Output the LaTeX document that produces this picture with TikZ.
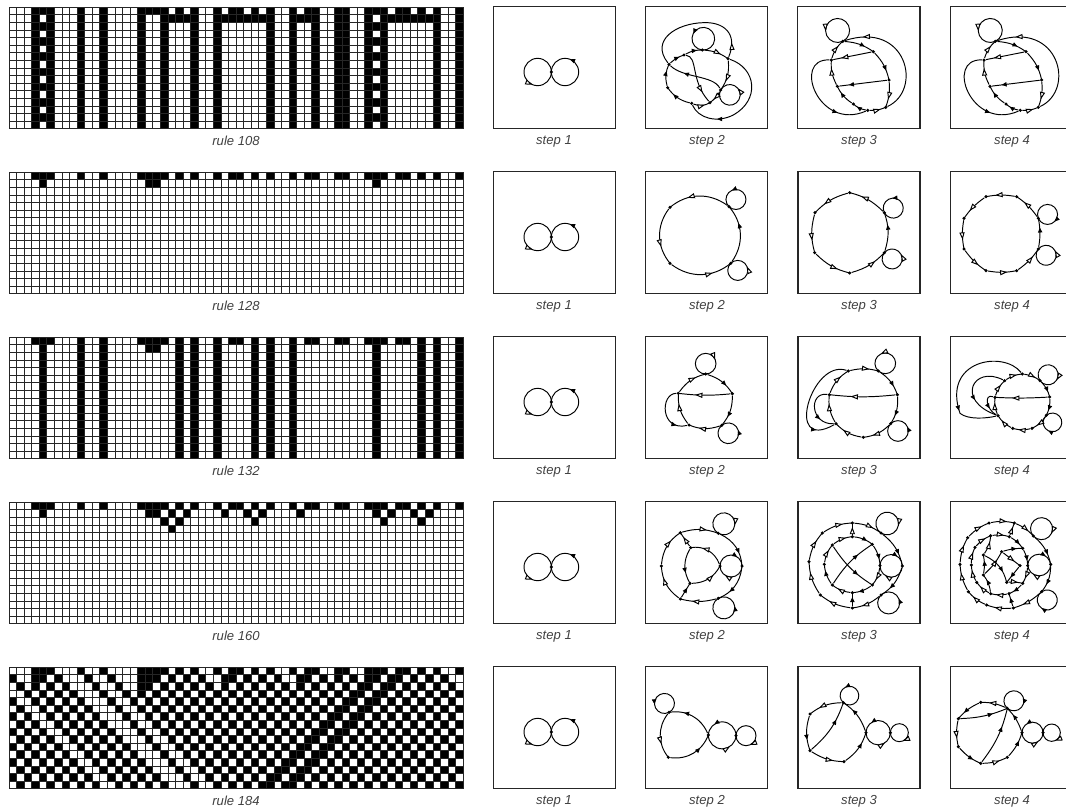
\documentclass[tikz,border=0pt]{standalone}
\usepackage{fontspec}
\setsansfont{Liberation Sans}
\usetikzlibrary{arrows.meta, decorations.markings}
\tikzset{
  dot/.style={circle, fill=black, inner sep=0pt, minimum size=2.6pt},
  edge/.style={draw=black, line width=0.72pt},
  oarc/.style={postaction={decorate, decoration={markings, mark=at position #1 with
      {\arrow{Triangle[open, fill=white, length=5.6pt, width=3.8pt]}}}}},
  farc/.style={postaction={decorate, decoration={markings, mark=at position #1 with
      {\arrow{Triangle[length=3.8pt, width=3.2pt]}}}}},
  panelbox/.style={draw=black!85, line width=0.8pt},
  gridline/.style={draw=black!85, line width=0.65pt},
  caption/.style={font=\fontsize{9.8}{11}\selectfont\sffamily\itshape, text=black!75, inner sep=0pt},
  rowzoom/.style 2 args={xshift=#1*0.75pt, yshift=-#2*0.75pt, x=0.25pt, y=-0.25pt},
}
\def\firstrow{3,4,5,9,12,17,18,19,20,22,24,27,29,30,32,34,37,39,40,43,44,47,48,49,51,52,54,56,59}
\def\getbit#1#2#3#4#5#6#7#8#9{\ifcase#9 #8\or #7\or #6\or #5\or #4\or #3\or #2\or #1\fi}
% one cellular automaton: top edge in pixels, then the rule as 8 bits
\newcommand{\rulegrid}[2]{
  \foreach \col in {0,...,59} {\expandafter\gdef\csname cell\col\endcsname{0}}
  \foreach \col in \firstrow {\expandafter\gdef\csname cell\col\endcsname{1}}
  \foreach \rowi in {0,...,15} {
    \foreach \col in {0,...,59} {
      \ifnum\csname cell\col\endcsname=1
        \fill (9+7.572*\col,#1+7.59*\rowi) rectangle ++(7.572,7.59);
      \fi
      \edef\nbr{\the\numexpr 4*\csname cell\the\numexpr\ifnum\col=0 59\else\col-1\fi\relax\endcsname
        +2*\csname cell\col\endcsname
        +\csname cell\the\numexpr\ifnum\col=59 0\else\col+1\fi\relax\endcsname\relax}
      \expandafter\xdef\csname next\col\endcsname{\getbit#2{\nbr}}
    }
    \foreach \col in {0,...,59} {\expandafter\xdef\csname cell\col\endcsname{\csname next\col\endcsname}}
  }
  \foreach \col in {0,...,60} {\draw[gridline] (9+7.572*\col,#1) -- ++(0,121.44);}
  \foreach \rowi in {0,...,16} {\draw[gridline] (9,#1+7.59*\rowi) -- ++(454.32,0);}
}
\newcommand{\vertices}[1]{\foreach \nn/\nx/\ny in {#1} {\node[dot] (\nn) at (\nx,\ny) {};}}
\newcommand{\oedges}[1]{\foreach \ea/\eb/\ebend in {#1} {\draw[edge,oarc=.68] (\ea) to[bend left=\ebend] (\eb);}}
\newcommand{\fedges}[1]{\foreach \ea/\eb/\ebend in {#1} {\draw[edge,farc=.68] (\ea) to[bend left=\ebend] (\eb);}}
\newcommand{\oloop}[4]{\draw[edge,oarc=.69] (#1) arc[start angle=#2, delta angle=#3, radius=#4];}
\newcommand{\floop}[4]{\draw[edge,farc=.69] (#1) arc[start angle=#2, delta angle=#3, radius=#4];}
% rule 108: step 3 and step 4
\newcommand{\twinpanel}{
  \draw[panelbox] (23,20) rectangle ++(367,366);
  \vertices{a/158/124,b/250/155,c/297/240,d/287/322,e/233/331,f/190/312,g/142/259,h/124/180}
  \oloop{a}{65}{-360}{36}
  \fedges{a/b/15,b/c/15,e/f/15,f/g/15}
  \oedges{c/d/12,e/d/-12,g/h/15,h/a/15}
  \draw[edge,oarc=.8] (b) -- (h);
  \draw[edge,farc=.8] (c) -- (g);
  \draw[edge,oarc=.85] (d) .. controls (400,270) and (350,60) .. (a);
  \draw[edge,farc=.72] (h) .. controls (5,175) and (85,395) .. (e);
}
\begin{document}
\begin{tikzpicture}[x=0.75pt, y=-0.75pt]
  \useasboundingbox (0,0) rectangle (1066,811);
  \clip (0,0) rectangle (1066,811);

  % left column
  \rulegrid{7.3}{01101100}
  \rulegrid{172.3}{10000000}
  \rulegrid{337.3}{10000100}
  \rulegrid{502.3}{10100000}
  \rulegrid{667.3}{10111000}

  \foreach \k/\rn in {0/108,1/128,2/132,3/160,4/184} {
    \node (rule\rn) [caption] at (236,141+165*\k) {rule \rn};
    \node (cap\k a) [caption] at (554,141+165*\k) {step 1};
    \node (cap\k b) [caption] at (707,141+165*\k) {step 2};
    \node (cap\k c) [caption] at (859,141+165*\k) {step 3};
    \node (cap\k d) [caption] at (1012,141+165*\k) {step 4};
    % step 1
    \begin{scope}[rowzoom={490}{165*\k}, name prefix=r\k s1-]
      \draw[panelbox] (10,20) rectangle ++(367,366);
      \node (mid) [dot] at (184,216) {};
      \oloop{mid}{0}{-360}{41}
      \floop{mid}{180}{-360}{41}
    \end{scope}
  }

  % rule 108
  \begin{scope}[rowzoom={490}{0}, name prefix=r0s2-]
    \draw[panelbox] (467,20) rectangle ++(366,366);
    \vertices{a/537/193,b/582/165,c/637/150,d/714/176,e/692/270,f/660/308,g/605/310,h/533/263}
    \floop{c}{95}{-360}{34}
    \oloop{e}{208}{-360}{31}
    \fedges{h/a/20,a/b/12,b/c/14,g/h/20}
    \oedges{c/d/15,d/e/20,e/f/10,g/f/-25}
    \draw[edge,oarc=.12] (d) .. controls (745,100) and (700,65) .. (640,68) .. controls (560,70) and (480,120) .. (a);
    \draw[edge,farc=.72] (e) .. controls (670,225) and (580,235) .. (a);
    \draw[edge,oarc=.8] (b) .. controls (625,170) and (600,240) .. (f);
    \draw[edge,farc=.75] (d) .. controls (800,205) and (810,300) .. (730,345) .. controls (680,370) and (625,355) .. (g);
  \end{scope}
  \begin{scope}[rowzoom={790}{0}, name prefix=r0s3-]
    \twinpanel
  \end{scope}
  \begin{scope}[rowzoom={942.67}{0}, name prefix=r0s4-]
    \twinpanel
  \end{scope}

  % rule 128
  \begin{scope}[rowzoom={640}{165}, name prefix=r1s2-]
    \draw[panelbox] (17,20) rectangle ++(366,366);
    \vertices{a/267/125,b/90/127,c/90/295,d/272/295}
    \floop{a}{134}{-360}{30}
    \oloop{d}{225}{-360}{30}
    \oedges{a/b/-38,b/c/-38,c/d/-38}
    \fedges{d/a/-38}
  \end{scope}
  \begin{scope}[rowzoom={640}{165}, name prefix=r1s3-]
    \draw[panelbox] (474,20) rectangle ++(366,366);
    \vertices{a/733/143,b/629/83,c/525/143,d/524/263,e/629/324,f/733/263}
    \floop{a}{153}{-360}{30}
    \oloop{f}{219}{-360}{30}
    \oedges{a/b/-15,b/c/-15,c/d/-15,d/e/-15,e/f/-15}
    \fedges{f/a/-18}
  \end{scope}
  \begin{scope}[rowzoom={640}{165}, name prefix=r1s4-]
    \draw[panelbox] (931,20) rectangle ++(366,366);
    \vertices{a/1195/160,b/1130/95,c/1038/95,d/972/160,e/972/252,f/1038/317,g/1130/317,h/1195/252}
    \floop{a}{157}{360}{30}
    \oloop{h}{219}{-360}{30}
    \oedges{a/b/-10,b/c/-10,c/d/-10,d/e/-10,e/f/-10,f/g/-10,g/h/-10}
    \fedges{h/a/-10}
  \end{scope}

  % rule 132
  \begin{scope}[rowzoom={640}{330}, name prefix=r2s2-]
    \draw[panelbox] (17,20) rectangle ++(366,366);
    \vertices{a/197/132,b/277/191,c/245/286,d/147/285,e/115/190}
    \oloop{a}{90}{360}{31}
    \floop{c}{230}{-360}{31}
    \fedges{a/b/20,b/c/20}
    \oedges{c/d/20,d/e/20,e/a/20,b/e/6}
    \draw[edge,farc=.8] (e) .. controls (60,190) and (60,305) .. (d);
  \end{scope}
  \begin{scope}[rowzoom={640}{330}, name prefix=r2s3-]
    \draw[panelbox] (474,20) rectangle ++(366,366);
    \vertices{a/715/123,b/772/194,c/752/281,d/670/322,e/588/281,f/568/194,g/625/123}
    \oloop{a}{132}{-360}{31}
    \floop{c}{225}{-360}{31}
    \fedges{a/b/18,b/c/18}
    \oedges{g/a/14,c/d/18,d/e/18,e/f/18,f/g/18,b/f/6}
    \draw[edge,farc=.82] (g) .. controls (515,85) and (430,370) .. (e);
    \draw[edge,farc=.7] (f) .. controls (505,185) and (510,285) .. (e);
  \end{scope}
  \begin{scope}[rowzoom={640}{330}, name prefix=r2s4-]
    \draw[panelbox] (931,20) rectangle ++(366,366);
    \vertices{a/1147/132,b/1200/152,c/1229/201,d/1219/256,e/1176/295,f/1118/295,g/1074/257,h/1065/202,i/1094/152}
    \oloop{b}{144}{360}{30}
    \floop{d}{229}{360}{28}
    \fedges{b/c/14,c/d/14}
    \oedges{i/a/14,a/b/14,d/e/14,e/f/14,f/g/14,g/h/14,h/i/14,c/h/3}
    \draw[edge,farc=.72] (a) .. controls (1090,60) and (905,90) .. (960,250) .. controls (985,270) and (1040,265) .. (g);
    \draw[edge,farc=.65] (i) .. controls (1000,105) and (945,210) .. (g);
    \draw[edge,farc=.65] (h) .. controls (1030,190) and (1040,240) .. (g);
  \end{scope}

  % rule 160
  \begin{scope}[rowzoom={640}{495}, name prefix=r3s2-]
    \draw[panelbox] (17,20) rectangle ++(366,366);
    \vertices{a/121/113,b/235/115,c/306/213,d/235/310,e/121/312,f/64/213,g/152/158,h/240/213,i/150/265}
    \oloop{b}{120}{360}{33}
    \floop{d}{240}{-360}{33}
    \fedges{b/c/30,c/d/30,g/i/-30,e/i/0}
    \oedges{a/b/18,d/e/14,e/f/25,f/a/25,h/g/-40,i/h/-30,g/a/0}
    \floop{h}{180}{180}{33}
    \oloop{c}{0}{180}{33}
  \end{scope}
  \begin{scope}[rowzoom={640}{495}, name prefix=r3s3-]
    \draw[panelbox] (474,20) rectangle ++(366,366);
    \vertices{a/547/114,b/637/84,c/723/114,d/787/213,e/723/300,f/637/339,g/541/300,h/507/200,
          i/577/150,j/637/125,k/697/148,l/720/212,m/697/270,n/637/293,o/577/270,p/553/208}
    \oloop{c}{123}{360}{34}
    \floop{e}{226}{-360}{33}
    \oedges{a/b/15,b/c/15,e/f/15,f/g/15,g/h/15,h/a/15,i/j/15,l/m/15,n/o/15,p/i/15,j/b/0}
    \fedges{c/d/20,d/e/20,j/k/15,k/l/15,m/n/15,o/p/15,f/n/0,o/k/12,i/m/-12}
    \floop{l}{180}{180}{33.5}
    \oloop{d}{0}{180}{33.5}
  \end{scope}
  \begin{scope}[rowzoom={640}{495}, name prefix=r3s4-]
    \draw[panelbox] (931,20) rectangle ++(366,366);
    \vertices{a/983/128,b/1047/84,c/1123/84,d/1180/123,e/1232/208,f/1205/290,g/1120/339,h/1040/330,i/985/290,j/960/208,
          k/1005/157,l/1052/122,m/1108/125,n/1148/160,o/1163/212,p/1148/265,q/1107/296,r/1052/296,s/1010/262,t/994/210,
          u/1030/180,v/1085/170,w/1140/212,x/1100/262,y/1030/240}
    \oloop{d}{138}{360}{33}
    \floop{f}{236}{360}{30}
    \oedges{a/b/12,b/c/12,c/d/12,f/g/12,g/h/12,h/i/12,i/j/12,j/a/12}
    \fedges{d/e/18,e/f/18}
    \oedges{k/l/12,l/m/12,o/p/12,q/r/12,r/s/12,s/t/12,t/k/12,m/c/0,y/v/-10,v/w/0,x/p/8,u/l/-15}
    \fedges{m/n/12,n/o/12,p/q/12,g/q/0,v/n/8,w/x/0,u/x/25,r/y/-15,y/u/-10}
    \floop{o}{180}{180}{34.5}
    \oloop{e}{0}{180}{34.5}
  \end{scope}

  % rule 184
  \begin{scope}[rowzoom={640}{660}, name prefix=r4s2-]
    \draw[panelbox] (17,20) rectangle ++(366,366);
    \vertices{a/87/157,b/205/225,c/85/292,d/288/227}
    \floop{a}{63}{-360}{30}
    \oloop{d}{180}{360}{30}
    \fedges{b/a/-38,c/b/-38}
    \oedges{a/c/-38}
    \floop{d}{0}{-180}{41.5}
    \oloop{b}{180}{-180}{41.5}
  \end{scope}
  \begin{scope}[rowzoom={640}{660}, name prefix=r4s3-]
    \draw[panelbox] (474,20) rectangle ++(366,366);
    \vertices{a/610/128,b/678/218,c/612/305,d/510/272,e/510/162,f/751/218}
    \floop{a}{131}{-360}{28}
    \oloop{f}{180}{360}{27}
    \fedges{b/a/-18,e/d/-18,c/b/-18,d/a/-15}
    \oedges{a/e/-18,d/c/-15}
    \floop{f}{0}{-180}{36.5}
    \oloop{b}{180}{-180}{36.5}
  \end{scope}
  \begin{scope}[rowzoom={640}{660}, name prefix=r4s4-]
    \draw[panelbox] (931,20) rectangle ++(366,366);
    \vertices{a/1102/145,b/1146/218,c/1102/292,d/1022/310,e/955/260,f/955/176,g/1022/127,h/1209/218}
    \floop{a}{131}{360}{30}
    \oloop{h}{180}{360}{26}
    \fedges{b/a/-12,g/f/-12,e/d/-12,c/b/-12,f/a/-10,d/a/-12}
    \oedges{a/g/-12,f/e/-12,d/c/-12}
    \floop{h}{0}{-180}{31.5}
    \oloop{b}{180}{-180}{31.5}
  \end{scope}
\end{tikzpicture}
\end{document}
